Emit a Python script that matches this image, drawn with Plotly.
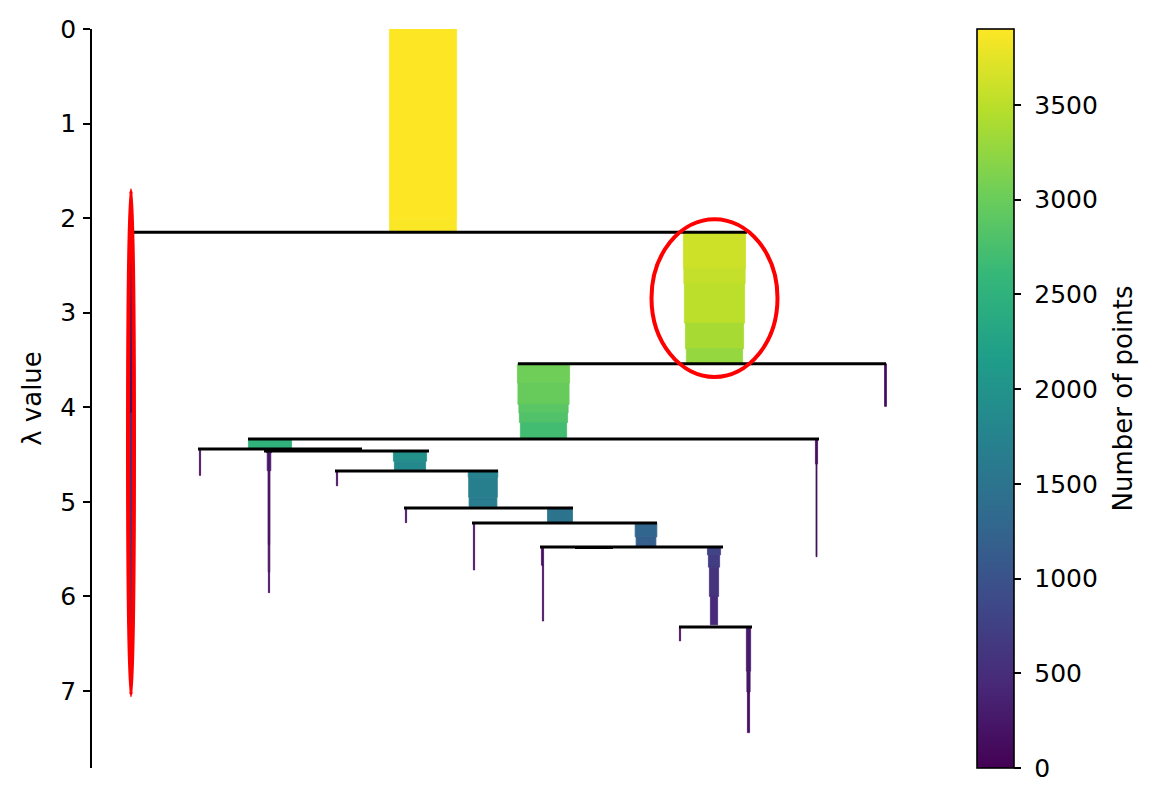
"""HDBSCAN style condensed tree, drawn with Plotly."""

import plotly.graph_objects as go

# ---- data (x is an arbitrary tree layout coordinate, lambda on the y axis) ----
# one row per bar segment: cluster x centre, lambda start, lambda end, points left
BAR_X = [
    331, 331,                                   # root
    39, 39,                                     # selected cluster (left)
    622.5, 622.5, 622.5, 622.5, 622.5,          # selected cluster (right)
    793.5,
    451.5, 451.5, 451.5, 451.5, 451.5,
    724.5, 724.5,
    178,
    108,
    177, 177, 177, 177, 177,
    318, 318,
    245,
    391, 391, 391,
    314,
    468,
    382,
    554, 554,
    450.5, 451,
    622, 622, 622, 622,
    588,
    656.5, 656.5, 656.5,
]
BAR_START = [
    0.00, 2.00,
    2.15, 4.05,
    2.15, 2.53, 2.69, 3.11, 3.38,
    3.54,
    3.54, 3.74, 3.97, 4.06, 4.16,
    4.33, 4.60,
    4.33,
    4.44,
    4.46, 4.48, 4.67, 5.45, 5.74,
    4.46, 4.57,
    4.67,
    4.67, 4.74, 4.95,
    5.07,
    5.07,
    5.22,
    5.22, 5.37,
    5.48, 5.67,
    5.48, 5.56, 5.69, 6.00,
    6.32,
    6.32, 6.79, 7.01,
]
BAR_END = [
    2.00, 2.15,
    4.05, 6.60,
    2.53, 2.69, 3.11, 3.38, 3.54,
    3.99,
    3.74, 3.97, 4.06, 4.16, 4.33,
    4.60, 5.58,
    4.43,
    4.72,
    4.48, 4.67, 5.45, 5.74, 5.96,
    4.57, 4.66,
    4.83,
    4.74, 4.95, 5.05,
    5.22,
    5.22,
    5.72,
    5.37, 5.47,
    5.67, 6.26,
    5.56, 5.69, 6.00, 6.30,
    6.47,
    6.79, 7.01, 7.44,
]
BAR_POINTS = [
    3900, 3880,
    170, 115,
    3610, 3560, 3500, 3380, 3270,
    155,
    3040, 2980, 2870, 2810, 2700,
    170, 100,
    2520,
    115,
    330, 250, 155, 140, 115,
    1950, 1835,
    115,
    1740, 1690, 1640,
    115,
    1480,
    115,
    1290, 1180,
    170, 115,
    800, 690, 575, 460,
    115,
    290, 230, 170,
]

# horizontal split lines: lambda of the split, left and right end
LINE_LAMBDA = [2.15, 3.54, 4.335, 4.44, 4.462, 4.674, 5.065, 5.224, 5.477, 5.483, 6.323]
LINE_LEFT = [36, 426, 156, 106, 172, 243, 312, 380, 448, 483, 587]
LINE_RIGHT = [655, 794, 727, 270, 337, 406, 481, 565, 631, 521, 660]

# selected clusters: centre x, bar width, lambda birth, lambda death
SEL_X = [39, 622.5]
SEL_WIDTH = [3, 63]
SEL_BIRTH = [2.15, 2.15]
SEL_DEATH = [6.60, 3.54]

COLOR_TICKS = [0, 500, 1000, 1500, 2000, 2500, 3000, 3500]
MAX_POINTS = 3900
WIDTH_PER_POINT = 68 / 3900
EDGE = 0.8  # bar outline in its own colour, hides seams between segments

FONT = "DejaVu Sans"
TICK_SIZE = 25
TITLE_SIZE = 26
NBSP = "\u00a0"

fig = go.Figure()

fig.add_trace(go.Bar(
    x=BAR_X,
    y=[e - s for s, e in zip(BAR_START, BAR_END)],
    base=BAR_START,
    width=[max(p * WIDTH_PER_POINT - EDGE, 0.5) for p in BAR_POINTS],
    marker=dict(
        color=BAR_POINTS,
        colorscale="Viridis",
        cmin=0,
        cmax=MAX_POINTS,
        line=dict(width=EDGE, color=BAR_POINTS, colorscale="Viridis",
                  cmin=0, cmax=MAX_POINTS),
        colorbar=dict(
            title=dict(text="Number of points", side="right",
                       font=dict(size=TITLE_SIZE, color="#000000", family=FONT)),
            tickmode="array",
            tickvals=COLOR_TICKS,
            ticktext=[NBSP + str(v) + NBSP for v in COLOR_TICKS],
            ticks="outside",
            ticklen=7,
            tickwidth=1.6,
            tickcolor="#000000",
            tickfont=dict(size=TICK_SIZE, color="#000000", family=FONT),
            outlinecolor="#000000",
            outlinewidth=1.6,
            thickness=37,
            len=1,
            lenmode="fraction",
            x=(977 - 92) / 838,
            xanchor="left",
            xpad=0,
            y=0.5,
            yanchor="middle",
            ypad=0,
        ),
    ),
    hoverinfo="skip",
    showlegend=False,
))

line_x, line_y = [], []
for lam, x0, x1 in zip(LINE_LAMBDA, LINE_LEFT, LINE_RIGHT):
    line_x += [x0, x1, None]
    line_y += [lam, lam, None]

fig.add_trace(go.Scatter(
    x=line_x, y=line_y, mode="lines",
    line=dict(color="#000000", width=3),
    hoverinfo="skip", showlegend=False,
))

# red ellipses round the selected clusters (2x width, 1.2x height, like hdbscan)
for cx, w, b, d in zip(SEL_X, SEL_WIDTH, SEL_BIRTH, SEL_DEATH):
    cy = (b + d) / 2
    h = (d - b) * 1.2
    fig.add_shape(
        type="circle", xref="x", yref="y",
        x0=cx - w, x1=cx + w, y0=cy - h / 2, y1=cy + h / 2,
        line=dict(color="#ff0000", width=4),
    )

# page body has an 8px margin, so the figure is 16px smaller than the window
fig.update_layout(
    width=1140,
    height=787,
    plot_bgcolor="#ffffff",
    paper_bgcolor="#ffffff",
    font=dict(family=FONT, size=TICK_SIZE, color="#000000"),
    barmode="overlay",
    margin=dict(l=84, r=218, t=21, b=27, autoexpand=False),
    xaxis=dict(visible=False, range=[0, 838]),
    yaxis=dict(
        range=[7.814, 0],
        title=dict(text="λ value", font=dict(size=TITLE_SIZE, family=FONT), standoff=11),
        tickvals=[0, 1, 2, 3, 4, 5, 6, 7],
        ticks="outside",
        ticklen=7,
        tickwidth=1.6,
        tickcolor="#000000",
        ticklabelstandoff=2,
        tickfont=dict(size=TICK_SIZE, color="#000000", family=FONT),
        showline=True,
        linecolor="#000000",
        linewidth=1.6,
        showgrid=False,
        zeroline=False,
    ),
)

fig.write_html("out.html")
